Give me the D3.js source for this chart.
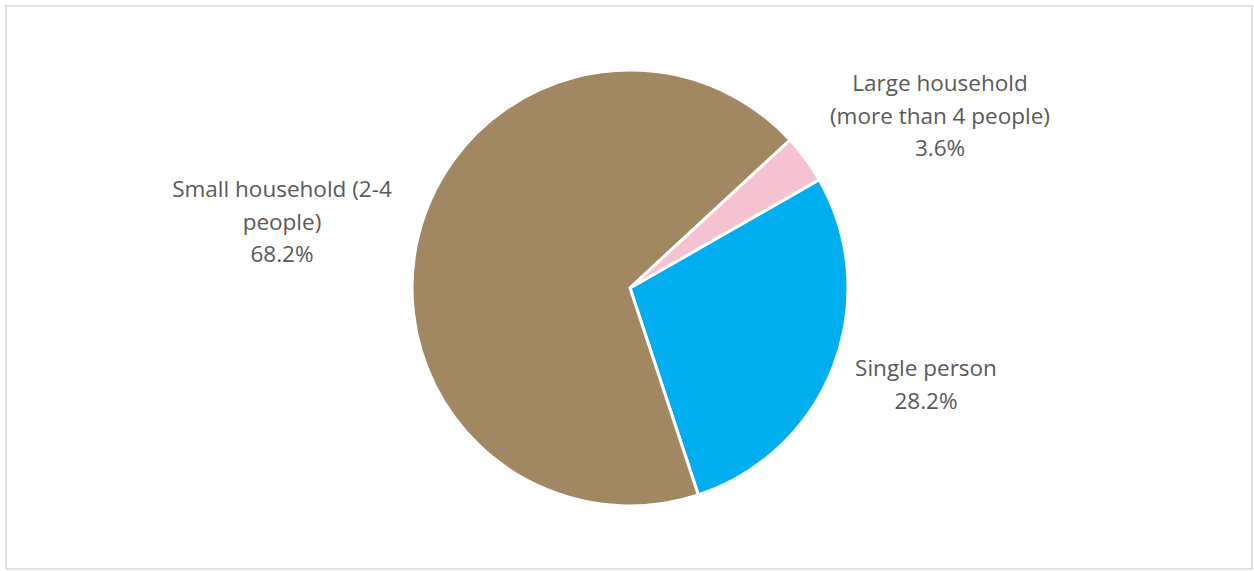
<!DOCTYPE html>
<html>
<head>
<meta charset="utf-8">
<script src="https://cdn.jsdelivr.net/npm/d3@7"></script>
<style>
  html, body { margin: 0; padding: 0; background: #fff; }
  svg { display: block; }
  text { font-family: "Open Sans", Lato, sans-serif; fill: #595959; }
</style>
</head>
<body>
<svg id="chart" width="1254" height="571"></svg>
<script>
// Household composition shares (percent)
const categories = ["Single person", "Small household (2-4 people)", "Large household (more than 4 people)"];
const values = [28.2, 68.2, 3.6];
const colors = ["#00AEEF", "#A18762", "#F4C2D0"];
// Label lines for each slice (name wrapped as shown, then value)
const labelLines = [
  ["Single person"],
  ["Small household (2-4", "people)"],
  ["Large household", "(more than 4 people)"]
];

const W = 1254, H = 571;
const svg = d3.select("#chart");

// chart frame
svg.append("rect")
  .attr("x", 6).attr("y", 6)
  .attr("width", 1246).attr("height", 563)
  .attr("fill", "#fff")
  .attr("stroke", "#d9d9d9")
  .attr("stroke-width", 1.5);

const cx = 630, cy = 288, r = 218;
const startDeg = 60.2;

const pie = d3.pie()
  .sort(null)
  .value(d => d)
  .startAngle(startDeg * Math.PI / 180)
  .endAngle((startDeg + 360) * Math.PI / 180);

const arcs = pie(values);
const arc = d3.arc().innerRadius(0).outerRadius(r);

const g = svg.append("g").attr("transform", `translate(${cx},${cy})`);
g.selectAll("path")
  .data(arcs)
  .join("path")
  .attr("d", arc)
  .attr("fill", (d, i) => colors[i])
  .attr("stroke", "#fff")
  .attr("stroke-width", 3)
  .attr("stroke-linejoin", "miter");

// label anchor positions (centre x, first baseline y)
const labelPos = [
  [926, 376],
  [282, 197],
  [940, 91]
];
const lineH = 32.5;

labelLines.forEach((lines, i) => {
  const all = lines.concat([values[i].toFixed(1) + "%"]);
  const t = svg.append("text")
    .attr("text-anchor", "middle")
    .attr("font-size", 22.5);
  all.forEach((s, k) => {
    t.append("tspan")
      .attr("x", labelPos[i][0])
      .attr("y", labelPos[i][1] + k * lineH)
      .text(s);
  });
});
</script>
</body>
</html>
